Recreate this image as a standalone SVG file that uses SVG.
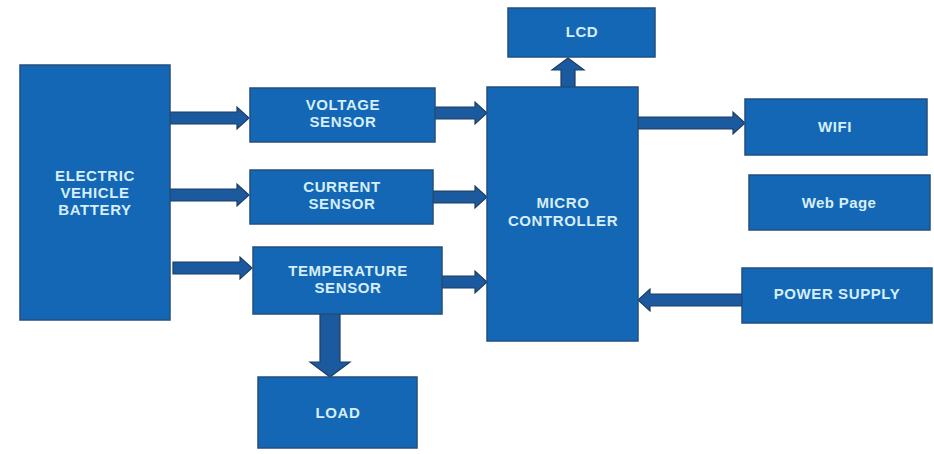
<svg xmlns="http://www.w3.org/2000/svg" width="934" height="454" viewBox="0 0 934 454">
<style>
.box{fill:#1367b5;stroke:#234f7e;stroke-width:1.5}
.lbl{font-family:"Liberation Sans",Arial,sans-serif;font-weight:bold;font-size:15px;fill:#d6eefb;text-anchor:middle;letter-spacing:0.6px}
.arr{fill:#1c5aa0;stroke:#1d3d63;stroke-width:1.2;stroke-linejoin:miter}
</style>
<rect width="934" height="454" fill="#ffffff"/>
<g id="connectors">
<polygon class="arr" points="170,112 237,112 237,107 249,118 237,129 237,124 170,124"/>
<polygon class="arr" points="170,189 237,189 237,184 249,195 237,206 237,201 170,201"/>
<polygon class="arr" points="173,262 240,262 240,257 252,268 240,279 240,274 173,274"/>
<polygon class="arr" points="435,107 475,107 475,102 487,113 475,124 475,119 435,119"/>
<polygon class="arr" points="433,191 475,191 475,186 487,197 475,208 475,203 433,203"/>
<polygon class="arr" points="442,276 475,276 475,271 487,282 475,293 475,288 442,288"/>
<polygon class="arr" points="638,117 733,117 733,112 745,123 733,134 733,129 638,129"/>
<polygon class="arr" points="742,294 650,294 650,289 638,300 650,311 650,306 742,306"/>
<polygon class="arr" points="561,87 561,70 552,70 568,58 584,70 575,70 575,87"/>
<polygon class="arr" points="320,314 320,362 310,362 330,377 350,362 340,362 340,314"/>
</g>
<g id="battery">
<rect class="box" x="20" y="65" width="150" height="255"/>
<text class="lbl" x="95" y="181">ELECTRIC</text>
<text class="lbl" x="95" y="198">VEHICLE</text>
<text class="lbl" x="95" y="215">BATTERY</text>
</g>
<g id="voltage">
<rect class="box" x="250" y="88" width="185" height="54"/>
<text class="lbl" x="343" y="110">VOLTAGE</text>
<text class="lbl" x="343" y="127">SENSOR</text>
</g>
<g id="current">
<rect class="box" x="250" y="170" width="183" height="54"/>
<text class="lbl" x="342" y="192">CURRENT</text>
<text class="lbl" x="342" y="209">SENSOR</text>
</g>
<g id="temperature">
<rect class="box" x="253" y="247" width="189" height="67"/>
<text class="lbl" x="348" y="276">TEMPERATURE</text>
<text class="lbl" x="348" y="293">SENSOR</text>
</g>
<g id="microcontroller">
<rect class="box" x="487" y="87" width="151" height="254"/>
<text class="lbl" x="563" y="208">MICRO</text>
<text class="lbl" x="563" y="226">CONTROLLER</text>
</g>
<g id="lcd">
<rect class="box" x="508" y="8" width="147" height="49"/>
<text class="lbl" x="582" y="37">LCD</text>
</g>
<g id="wifi">
<rect class="box" x="745" y="99" width="182" height="56"/>
<text class="lbl" x="835" y="132">WIFI</text>
</g>
<g id="webpage">
<rect class="box" x="749" y="175" width="181" height="55"/>
<text class="lbl" x="839" y="208" style="letter-spacing:0.4px">Web Page</text>
</g>
<g id="power">
<rect class="box" x="742" y="268" width="190" height="55"/>
<text class="lbl" x="837" y="299">POWER SUPPLY</text>
</g>
<g id="load">
<rect class="box" x="258" y="377" width="159" height="71"/>
<text class="lbl" x="338" y="418">LOAD</text>
</g>
</svg>
